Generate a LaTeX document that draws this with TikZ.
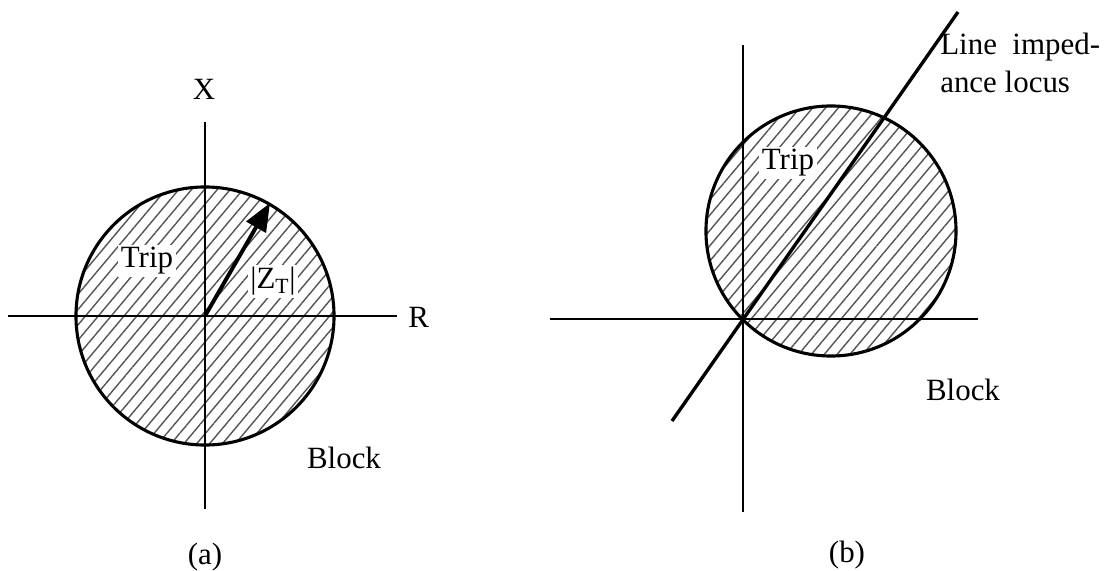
\documentclass[tikz,border=0pt]{standalone}
\usepackage{fontspec}
\setmainfont{Liberation Serif}
\usepackage{xcolor}
\usepackage{tikz}
\usetikzlibrary{arrows.meta,patterns.meta}
\definecolor{hatchgrey}{RGB}{85,85,85}
\tikzset{
  axis/.style={line width=1.9pt,draw=black},
  rim/.style={line width=2.2pt,draw=black},
  hatched/.style={pattern={Lines[angle=50,distance=7pt,line width=1pt]},
    pattern color=hatchgrey},
  locus/.style={line width=2.4pt,draw=black},
  impedance/.style={-{Triangle[length=7mm,width=5.5mm]},line width=2.8pt},
  lbl/.style={font=\fontsize{22}{27}\selectfont,inner sep=0pt},
  zonelbl/.style={lbl,fill=white,inner sep=2pt}
}

\begin{document}
\begin{tikzpicture}[x=0.025cm,y=-0.025cm]
  \useasboundingbox (0,0) rectangle (1107,571);
  % (a) circle centred on the origin
  \coordinate (oa) at (205,316);
  \coordinate (xtop) at (205,122);
  \coordinate (xbot) at (205,509);
  \coordinate (rleft) at (8,316);
  \coordinate (rright) at (397,316);
  \coordinate (zend) at (270,203);
  \draw[rim,hatched] (oa) circle[radius=3.225cm];
  \draw[axis] (rleft) -- (rright);
  \draw[axis] (xtop) -- (xbot);
  \draw[impedance] (oa) -- (zend);
  \node[lbl,anchor=base] (xlab) at (204,100) {X};
  \node[lbl,anchor=base west] (rlab) at (408,327) {R};
  \node[zonelbl,anchor=base] (tripa) at (147,268) {Trip};
  \node[zonelbl,anchor=base] (zlab) at (273,289) {|Z\textsubscript{T}|};
  \node[lbl,anchor=base] (blocka) at (344,468) {Block};
  \node[lbl,anchor=base] (capa) at (205,564) {(a)};
  % (b) circle through the origin
  \coordinate (ob) at (743,319);
  \coordinate (cb) at (831,231);
  \coordinate (btop) at (743,45);
  \coordinate (bbot) at (743,512);
  \coordinate (bleft) at (550,319);
  \coordinate (bright) at (978,319);
  \coordinate (lochi) at (958,12);
  \coordinate (loclo) at (672,421);
  \draw[rim,hatched] (cb) circle[radius=3.125cm];
  \draw[axis] (bleft) -- (bright);
  \draw[axis] (btop) -- (bbot);
  \draw[locus] (loclo) -- (lochi);
  \node[zonelbl,anchor=base] (tripb) at (788,170) {Trip};
  \node[lbl,anchor=base] (blockb) at (963,400) {Block};
  \node[lbl,anchor=north west,align=left] (loclab) at (940,33)
    {Line\ \ imped-\\ance locus};
  \node[lbl,anchor=base] (capb) at (847,562) {(b)};
\end{tikzpicture}
\end{document}
